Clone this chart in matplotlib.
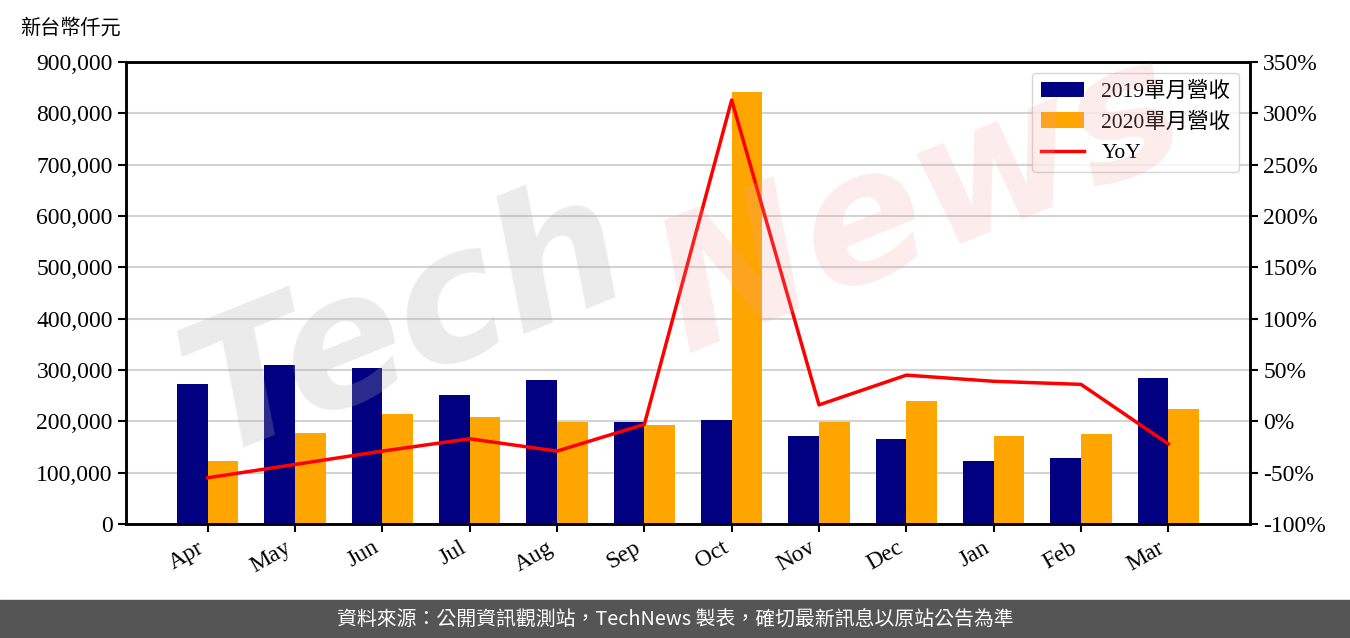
import matplotlib
matplotlib.use('Agg')
import matplotlib.pyplot as plt
import numpy as np
from matplotlib.ticker import FuncFormatter, MultipleLocator

# data (NT$ thousand)
months = ['Apr', 'May', 'Jun', 'Jul', 'Aug', 'Sep', 'Oct', 'Nov', 'Dec', 'Jan', 'Feb', 'Mar']
rev2019 = [273000, 310000, 304000, 251000, 280000, 199000, 203000, 171000, 166000, 123000, 129000, 284000]
rev2020 = [123000, 177000, 214000, 208000, 199000, 193000, 842000, 199000, 240000, 171000, 175000, 224000]
yoy = [-55, -42, -29, -17, -29, -3, 313, 16, 45, 39, 36, -22]

serif = ['Liberation Serif', 'Noto Sans CJK TC']
plt.rcParams['font.family'] = serif

fig = plt.figure(figsize=(13.5, 6.38), dpi=100)
ax = fig.add_axes([126/1350, 1-524/638, 1124/1350, 462/638])
ax2 = ax.twinx()

x = np.arange(len(months))
w = 0.35
b1 = ax.bar(x - w/2, rev2019, w, color='#000080', label='2019單月營收', zorder=2)
b2 = ax.bar(x + w/2, rev2020, w, color='#FFA500', label='2020單月營收', zorder=2)
l1, = ax2.plot(x, yoy, color='red', lw=2.5, label='YoY', zorder=3)

ax.set_ylim(0, 900000)
ax.yaxis.set_major_locator(MultipleLocator(100000))
ax.yaxis.set_major_formatter(FuncFormatter(lambda v, p: '{:,.0f}'.format(v)))
ax.grid(axis='y', color='#d3d3d3', lw=1.5, zorder=0)
ax.set_axisbelow(True)

ax2.set_ylim(-100, 350)
ax2.yaxis.set_major_locator(MultipleLocator(50))
ax2.yaxis.set_major_formatter(FuncFormatter(lambda v, p: '{:.0f}%'.format(v)))

ax.set_xticks(x)
ax.set_xticklabels(months, rotation=30, ha='right', fontsize=17)
for a in (ax, ax2):
    a.tick_params(labelsize=17, width=1.5, length=6)
    for s in a.spines.values():
        s.set_linewidth(1.8)

# watermark
fig.text(0.12, 0.29, 'Tech', fontsize=130, fontweight='bold', fontstyle='italic',
         family='DejaVu Sans', color='#b0b0b0', alpha=0.25, rotation=22, zorder=10)
fig.text(0.47, 0.45, 'News', fontsize=130, fontweight='bold', fontstyle='italic',
         family='DejaVu Sans', color='#f0a0a0', alpha=0.2, rotation=22, zorder=10)

ax.legend([b1, b2, l1], ['2019單月營收', '2020單月營收', 'YoY'], loc='upper right',
          fontsize=15.5, framealpha=0.8, borderaxespad=0.5, handlelength=2.0)

fig.text(20/1350, 1-28/638, '新台幣仟元', fontsize=14.5, va='center', ha='left',
         family=['Noto Sans CJK TC'])

# footer
fig.patches.append(plt.Rectangle((0, 0), 1, 38/638, transform=fig.transFigure,
                                 color='#555555', zorder=0))
fig.text(0.5, 19/638, '資料來源：公開資訊觀測站，TechNews 製表，確切最新訊息以原站公告為準',
         color='white', fontsize=14.3, ha='center', va='center',
         family=['Noto Sans CJK TC', 'DejaVu Sans'])

fig.savefig('out.png', dpi=100)
